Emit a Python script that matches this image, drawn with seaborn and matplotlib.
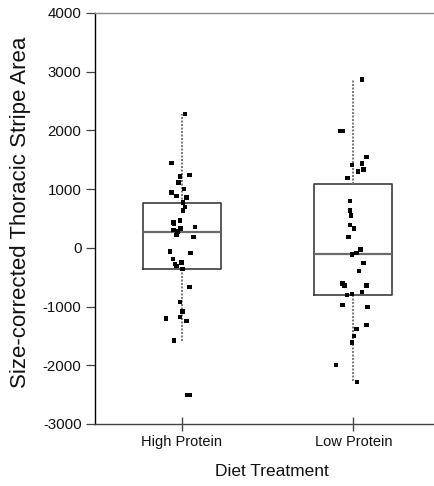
import numpy as np
import pandas as pd
import matplotlib
matplotlib.use("Agg")
import matplotlib.pyplot as plt
import seaborn as sns

# ---- data ----
categories = ["High Protein", "Low Protein"]

high_values = [2280, 1448, 1244, 1215, 1113, 1000, 942, 886, 857, 772, 693, 636,
               465, 431, 403, 358, 329, 301, 278, 216, 187, -63, -90, -193, -273,
               -250, -307, -363, -670, -920, -1085, -1204, -1175, -1249, -1579,
               -2504, -2504]
high_jitter = [0.019, -0.060, 0.045, -0.010, -0.019, 0.013, -0.060, -0.029, 0.029,
               0.008, 0.019, 0.008, -0.010, -0.048, -0.045, 0.077, -0.006, -0.048,
               -0.025, -0.029, 0.068, -0.068, 0.052, -0.052, -0.039, -0.002, -0.029,
               0.006, 0.045, -0.010, 0.006, -0.091, -0.010, 0.029, -0.045, 0.035, 0.047]

low_values = [2870, 1993, 1993, 1550, 1409, 1436, 1300, 1334, 1193, 800, 636, 550,
              386, 329, 187, -114, -85, -29, -256, -397, -608, -642, -642, -755,
              -784, -806, -976, -1005, -1312, -1385, -1499, -1613, -1998, -2283]
low_jitter = [0.051, -0.076, -0.064, 0.077, -0.006, 0.052, 0.029, 0.060, -0.033,
              -0.019, -0.019, -0.012, -0.019, 0.004, -0.027, -0.006, 0.019, 0.042,
              0.060, 0.035, -0.062, -0.052, 0.077, 0.052, -0.006, -0.037, -0.062,
              0.083, 0.077, 0.019, 0.004, -0.006, -0.101, 0.022]

y_ticks = [-3000, -2000, -1000, 0, 1000, 2000, 3000, 4000]
x_label = "Diet Treatment"
y_label = "Size-corrected Thoracic Stripe Area"

df = pd.DataFrame({
    "diet": [categories[0]] * len(high_values) + [categories[1]] * len(low_values),
    "value": high_values + low_values,
    "jitter": high_jitter + low_jitter,
})
df["diet"] = pd.Categorical(df["diet"], categories=categories)
df["xpos"] = df["diet"].cat.codes + df["jitter"]

sns.set_style("white")
plt.rcParams["font.family"] = ["Liberation Sans", "DejaVu Sans"]

fig = plt.figure(figsize=(4.35, 4.86), dpi=100)
ax = fig.add_axes([0.2195, 0.1276, 0.7805, 0.8457])

sns.boxplot(data=df, x="diet", y="value", order=categories, ax=ax,
            width=0.455, fill=False, color="#3c3c3c", linecolor="#3c3c3c",
            linewidth=1.2, showcaps=False, showfliers=False, whis=1.5,
            boxprops=dict(color="#3c3c3c", linewidth=1.2),
            medianprops=dict(color="#6a6a6a", linewidth=1.6),
            whiskerprops=dict(color="#777777", linestyle=(0, (1, 0.8)), linewidth=1.4))

sns.scatterplot(data=df, x="xpos", y="value", ax=ax, marker="s", s=10,
                color="black", edgecolor="none", zorder=5, legend=False)

ax.set_xlim(-0.502, 1.476)
ax.set_ylim(-3000, 4000)
ax.set_yticks(y_ticks)
ax.set_yticklabels([str(t) for t in y_ticks])
ax.set_xticks([0, 1])
ax.set_xticklabels(categories)

ax.spines["right"].set_visible(False)
ax.spines["left"].set_color("black")
ax.spines["left"].set_linewidth(1.0)
ax.spines["bottom"].set_color("#444444")
ax.spines["bottom"].set_linewidth(1.0)
ax.spines["top"].set_color("#888888")
ax.spines["top"].set_linewidth(1.0)

ax.tick_params(axis="y", direction="out", length=6.5, width=0.9, color="#444444",
               labelsize=10.8, pad=3.5, left=True, labelcolor="#111111")
ax.tick_params(axis="x", direction="inout", length=9.5, width=1.0, color="#444444",
               labelsize=10.5, pad=3, bottom=True, labelcolor="#111111")

ax.set_xlabel(x_label, fontsize=12.5, color="#111111")
ax.set_ylabel(y_label, fontsize=16, color="#111111")
ax.xaxis.set_label_coords(0.52, -0.097)
ax.yaxis.set_label_coords(-0.19, 0.515)

fig.savefig("out.png", dpi=100)
